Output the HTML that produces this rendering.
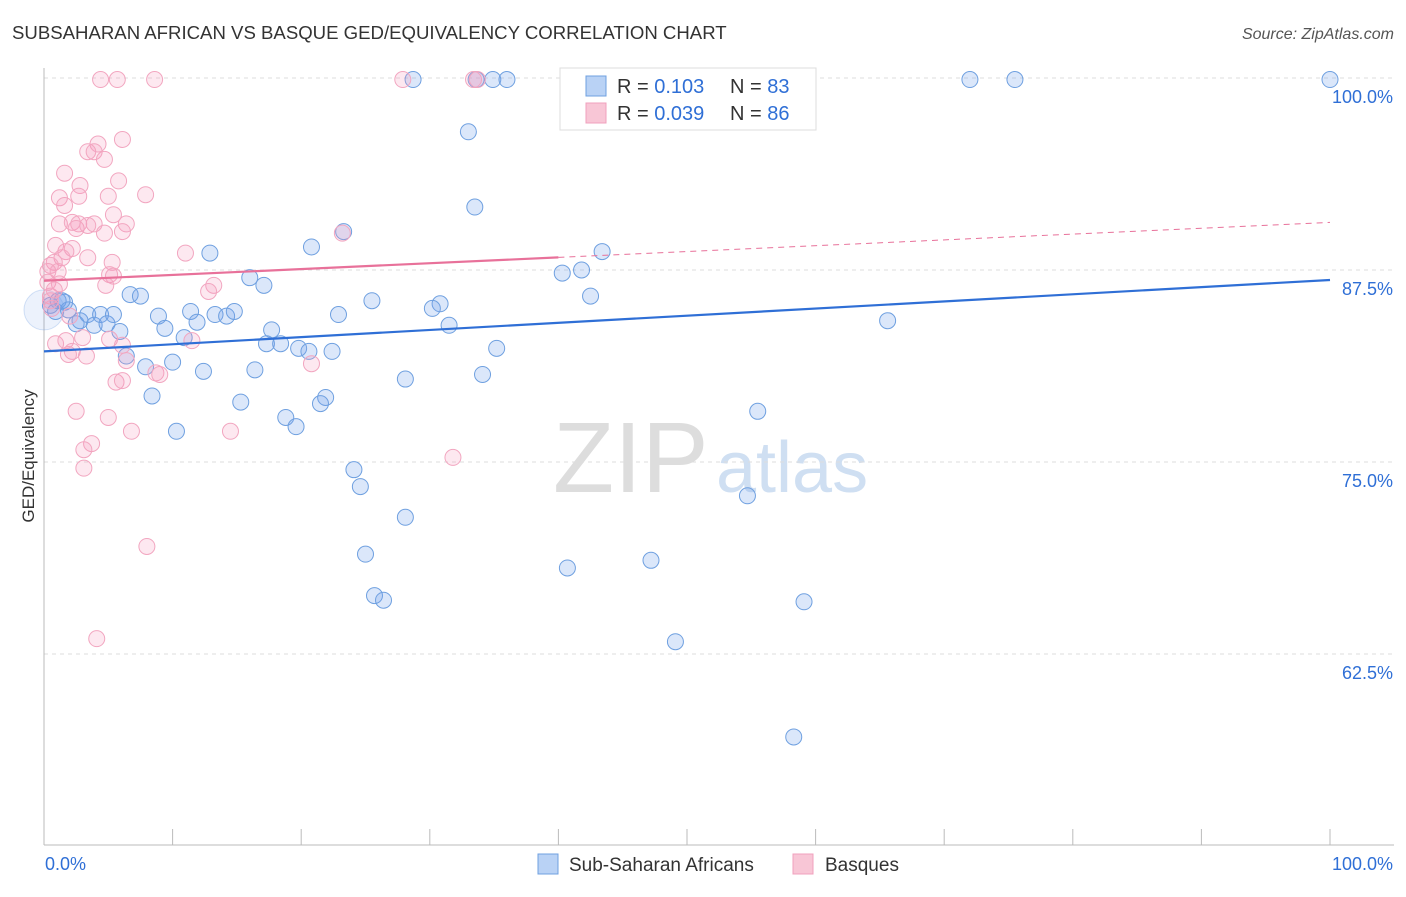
<!DOCTYPE html>
<html><head><meta charset="utf-8"><style>
body{margin:0;background:#fff;font-family:"Liberation Sans",sans-serif}
svg text{font-family:"Liberation Sans",sans-serif}
</style></head><body>
<svg id="chart" width="1406" height="892" xmlns="http://www.w3.org/2000/svg">
<text x="12" y="39" font-size="18.6" fill="#333">SUBSAHARAN AFRICAN VS BASQUE GED/EQUIVALENCY CORRELATION CHART</text>
<text x="1394" y="39" font-size="16" fill="#555" font-style="italic" text-anchor="end">Source: ZipAtlas.com</text>
<text transform="translate(34,456) rotate(-90)" font-size="17" fill="#333" text-anchor="middle">GED/Equivalency</text>
<g>
<text x="553" y="492" font-size="100" fill="#ddd" font-family="Liberation Serif,serif">ZIP</text>
<text x="716" y="492" font-size="72" fill="#cfdff2">atlas</text>
</g>
<g id="grid"></g>
<g id="pts"></g>
<g id="trend"></g>
<g>
<rect x="560" y="68" width="256" height="62" fill="#fff" stroke="#ddd"/>
<rect x="586" y="76" width="20" height="20" fill="#b9d2f5" stroke="#6fa0e0"/>
<text x="617" y="93" font-size="20" fill="#333">R = <tspan fill="#2f6fd6">0.103</tspan><tspan x="730">N = </tspan><tspan fill="#2f6fd6">83</tspan></text>
<rect x="586" y="103" width="20" height="20" fill="#f8c6d6" stroke="#f0a0bd"/>
<text x="617" y="120" font-size="20" fill="#333">R = <tspan fill="#2f6fd6">0.039</tspan><tspan x="730">N = </tspan><tspan fill="#2f6fd6">86</tspan></text>
</g>
<g>
<rect x="538" y="854" width="20" height="20" fill="#b9d2f5" stroke="#6fa0e0"/>
<text x="569" y="871" font-size="19" fill="#333">Sub-Saharan Africans</text>
<rect x="793" y="854" width="20" height="20" fill="#f8c6d6" stroke="#f0a0bd"/>
<text x="825" y="871" font-size="19" fill="#333">Basques</text>
</g>
</svg>
<script>
const yTicks=[100,87.5,75,62.5];
const yTickLabels=["100.0%","87.5%","75.0%","62.5%"];
const xTickLabels=["0.0%","100.0%"];
const blueX=[28.7,33.6,34.9,36.0,46.2,52.3,72.0,75.5,100,33.0,33.5,12.9,20.8,43.4,23.3,16.0,17.1,6.7,7.5,40.3,41.8,42.5,25.5,30.8,30.2,31.5,22.9,65.6,8.9,11.4,11.9,13.3,14.2,14.8,9.4,10.9,17.7,17.3,18.4,19.8,20.6,22.4,35.2,6.4,7.9,10.0,12.4,16.4,28.1,34.1,8.4,15.3,21.9,21.5,18.8,19.6,10.3,55.5,24.1,24.6,54.7,28.1,25.0,40.7,47.2,25.7,26.4,59.1,49.1,58.3,0.5,1.1,1.6,1.9,2.5,2.8,3.4,3.9,4.4,4.9,5.4,5.9,0.9,1.4];
const blueY=[99.9,99.9,99.9,99.9,99.9,99.9,99.9,99.9,99.9,96.5,91.6,88.6,89.0,88.7,90.0,87.0,86.5,85.9,85.8,87.3,87.5,85.8,85.5,85.3,85.0,83.9,84.6,84.2,84.5,84.8,84.1,84.6,84.5,84.8,83.7,83.1,83.6,82.7,82.7,82.4,82.2,82.2,82.4,81.9,81.2,81.5,80.9,81.0,80.4,80.7,79.3,78.9,79.2,78.8,77.9,77.3,77.0,78.3,74.5,73.4,72.8,71.4,69.0,68.1,68.6,66.3,66.0,65.9,63.3,57.1,85.2,85.5,85.4,84.9,84.0,84.2,84.6,83.9,84.6,84.0,84.6,83.5,84.8,85.5];
const pinkX=[4.4,5.7,8.6,27.9,33.4,33.7,6.1,4.2,3.4,3.9,4.7,1.6,5.8,2.8,7.9,1.2,2.7,5.0,1.6,5.4,1.2,2.2,2.7,3.9,6.4,2.5,3.4,4.7,6.1,23.2,0.9,2.2,1.7,11.0,1.4,0.8,3.4,5.3,0.5,0.3,1.1,5.1,5.4,4.8,0.3,13.2,12.8,0.5,0.6,2.0,0.9,1.7,2.2,1.9,3.3,3.0,5.1,6.1,11.5,6.4,8.7,9.0,20.8,5.6,6.1,2.5,5.0,6.8,14.5,3.7,3.1,3.1,31.8,8.0,4.1,0.5,1.2,0.8];
const pinkY=[99.9,99.9,99.9,99.9,99.9,99.9,96.0,95.7,95.2,95.2,94.7,93.8,93.3,93.0,92.4,92.2,92.3,92.3,91.7,91.1,90.5,90.6,90.5,90.5,90.5,90.2,90.4,89.9,90.0,89.9,89.1,88.9,88.7,88.6,88.3,88.0,88.3,88.0,87.8,87.4,87.4,87.2,87.1,86.5,86.7,86.5,86.1,85.8,85.0,84.5,82.7,82.9,82.2,82.0,81.9,83.1,83.0,82.6,82.9,81.6,80.8,80.7,81.4,80.2,80.3,78.3,77.9,77.0,77.0,76.2,75.8,74.6,75.3,69.5,63.5,85.5,86.6,86.2];
const blueTrend=[82.2,86.85];
const pinkTrend=[86.8,90.6];
const NS="http://www.w3.org/2000/svg";
const X0=44,X1=1330,YTOP=78,PXPER=15.36;
function sx(v){return X0+(X1-X0)*v/100;}
function sy(v){return YTOP+(100-v)*PXPER;}
function mk(tag,attrs,parent){const e=document.createElementNS(NS,tag);for(const k in attrs)e.setAttribute(k,attrs[k]);parent.appendChild(e);return e;}
const grid=document.getElementById('grid');
yTicks.forEach((t,i)=>{
 const l=mk('line',{x1:44,x2:1394,y1:sy(t),y2:sy(t),stroke:'#ddd','stroke-dasharray':'4,4'},grid);
 
 
 const tx=mk('text',{x:1393,y:sy(t)+25,'font-size':18,fill:'#2f6fd6','text-anchor':'end'},grid);
 tx.textContent=yTickLabels[i];
 
 
});
const ax=mk('line',{x1:44,x2:44,y1:68,y2:845,stroke:'#bbb'},grid);


const bx=mk('line',{x1:44,x2:1394,y1:845,y2:845,stroke:'#bbb'},grid);


for(let i=0;i<=10;i++){
 const t=mk('line',{x1:sx(i*10),x2:sx(i*10),y1:829,y2:845,stroke:'#bbb'},grid);
 
 
}
[[0,'start',45],[100,'end',1393]].forEach((d,i)=>{
 const t=mk('text',{x:d[2],y:870,'font-size':18,fill:'#2f6fd6','text-anchor':d[1]},grid);
 t.textContent=xTickLabels[i];
 
 
});
const pts=document.getElementById('pts');
const big1=mk('circle',{cx:sx(0),cy:sy(84.9),r:20,fill:'rgba(100,150,230,0.12)',stroke:'rgba(111,160,224,0.3)'},pts);


blueX.forEach((x,i)=>{
 const c=mk('circle',{cx:sx(x),cy:sy(blueY[i]),r:8,fill:'rgba(110,160,235,0.25)',stroke:'#6fa0e0','stroke-width':1},pts);
 
 
});
pinkX.forEach((x,i)=>{
 const c=mk('circle',{cx:sx(x),cy:sy(pinkY[i]),r:8,fill:'rgba(245,150,185,0.22)',stroke:'#f2a6c0','stroke-width':1},pts);
 
 
});
const tr=document.getElementById('trend');
const bl=mk('line',{x1:sx(0),y1:sy(blueTrend[0]),x2:sx(100),y2:sy(blueTrend[1]),stroke:'#2f6fd6','stroke-width':2.2},tr);


const pm=pinkTrend[0]+(pinkTrend[1]-pinkTrend[0])*0.4;
const pl=mk('line',{x1:sx(0),y1:sy(pinkTrend[0]),x2:sx(40),y2:sy(pm),stroke:'#e8719a','stroke-width':2.2},tr);


const pd=mk('line',{x1:sx(40),y1:sy(pm),x2:sx(100),y2:sy(pinkTrend[1]),stroke:'#e8719a','stroke-width':1,'stroke-dasharray':'6,5'},tr);


</script>
</body></html>
